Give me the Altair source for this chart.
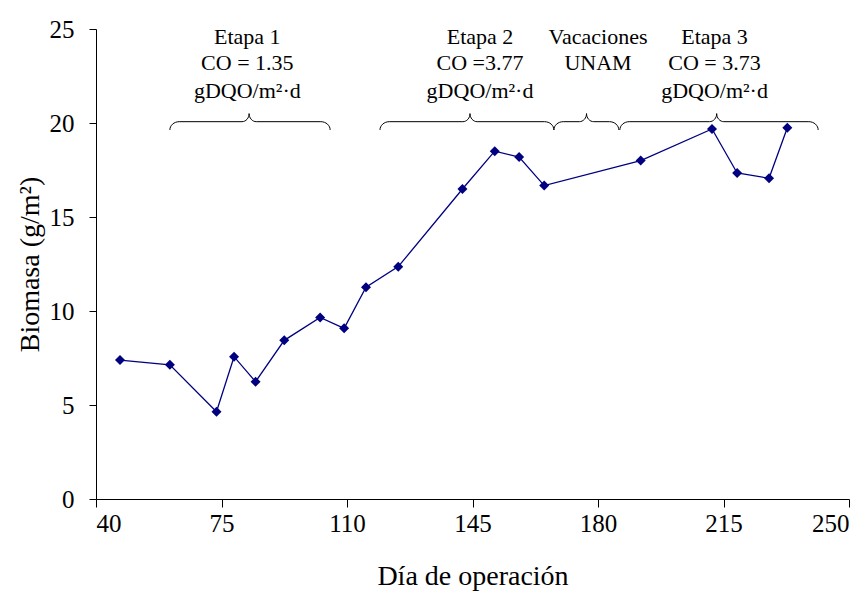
import math
import altair as alt
import pandas as pd

# ---- data ----
days = [46.7, 60.6, 73.6, 78.5, 84.5, 92.5, 102.5, 109.2, 115.3, 124.3,
        142.2, 151.2, 158.0, 165.0, 191.9, 211.8, 218.8, 227.7, 232.8]
biomass = [7.39, 7.14, 4.64, 7.57, 6.24, 8.44, 9.66, 9.08, 11.26, 12.36,
           16.49, 18.5, 18.19, 16.67, 18.0, 19.68, 17.34, 17.06, 19.75]

# annotation braces (start, tip, end in day units)
brace_start = [60.6, 119.2, 167.7, 186.1]
brace_tip = [82.7, 144.3, 176.8, 213.1]
brace_end = [105.3, 167.7, 185.8, 241.4]

# annotation text
ann_text = ["Etapa 1", "CO = 1.35", "gDQO/m²·d",
            "Etapa 2", "CO =3.77", "gDQO/m²·d",
            "Vacaciones", "UNAM",
            "Etapa 3", "CO = 3.73", "gDQO/m²·d"]
ann_x = [82.2, 82.2, 82.2,
         147.1, 147.1, 147.1,
         180.0, 180.0,
         212.5, 212.5, 212.5]
ann_y = [24.6, 23.2, 21.68,
         24.6, 23.2, 21.68,
         24.6, 23.2,
         24.6, 23.2, 21.68]

x_ticks = [40, 75, 110, 145, 180, 215, 250]
y_ticks = [0, 5, 10, 15, 20, 25]

FONT = "Liberation Serif"

df = pd.DataFrame({"day": days, "bio": biomass})

# brace geometry
Y_LOW, Y_FLAT, Y_TIP = 19.63, 20.07, 20.5
R_END, R_TIP = 2.6, 2.0
rows = []
for b, (x0, xm, x1) in enumerate(zip(brace_start, brace_tip, brace_end)):
    pts = []
    n = 8
    for i in range(n + 1):
        t = (math.pi / 2) * i / n
        pts.append((x0 + R_END - R_END * math.cos(t), Y_LOW + (Y_FLAT - Y_LOW) * math.sin(t)))
    for i in range(n + 1):
        t = (math.pi / 2) * i / n
        pts.append((xm - R_TIP + R_TIP * math.sin(t), Y_TIP - (Y_TIP - Y_FLAT) * math.cos(t)))
    for i in range(n + 1):
        t = (math.pi / 2) * i / n
        pts.append((xm + R_TIP - R_TIP * math.cos(t), Y_TIP - (Y_TIP - Y_FLAT) * math.sin(t)))
    for i in range(n + 1):
        t = (math.pi / 2) * i / n
        pts.append((x1 - R_END + R_END * math.sin(t), Y_FLAT - (Y_FLAT - Y_LOW) * (1 - math.cos(t))))
    for k, (px, py) in enumerate(pts):
        rows.append({"brace": b, "order": k, "x": px, "y": py})
brace_df = pd.DataFrame(rows)

ann_df = pd.DataFrame({"text": ann_text, "x": ann_x, "y": ann_y})

xscale = alt.Scale(domain=[40, 250], nice=False, zero=False)
yscale = alt.Scale(domain=[0, 25], nice=False)

xaxis = alt.Axis(values=x_ticks, title="Día de operación", tickSize=8,
                 labelPadding=4, titleY=85, titleBaseline="alphabetic")
yaxis = alt.Axis(values=y_ticks, title="Biomasa (g/m²)", tickSize=7,
                 labelPadding=15, titleX=-52, titleY=235)

line = alt.Chart(df).mark_line(color="#000080", strokeWidth=1.3).encode(
    x=alt.X("day:Q", scale=xscale, axis=xaxis),
    y=alt.Y("bio:Q", scale=yscale, axis=yaxis),
)
pts = alt.Chart(df).mark_point(shape="diamond", filled=True, size=100,
                               color="#000080", opacity=1).encode(
    x=alt.X("day:Q", scale=xscale),
    y=alt.Y("bio:Q", scale=yscale),
)
braces = alt.Chart(brace_df).mark_line(color="black", strokeWidth=1).encode(
    x=alt.X("x:Q", scale=xscale),
    y=alt.Y("y:Q", scale=yscale),
    detail="brace:N",
    order="order:Q",
)
texts = alt.Chart(ann_df).mark_text(font=FONT, fontSize=22, color="black",
                                    baseline="middle", align="center").encode(
    x=alt.X("x:Q", scale=xscale),
    y=alt.Y("y:Q", scale=yscale),
    text="text:N",
)

chart = alt.layer(line, pts, braces, texts).properties(
    width=753, height=470,
    autosize=alt.AutoSizeParams(type="none"),
    padding={"left": 88, "top": 21, "right": 8, "bottom": 92},
).configure_view(stroke=None).configure_axis(
    grid=False, domainColor="black", tickColor="black", labelColor="black",
    titleColor="black", labelFont=FONT, titleFont=FONT, labelFontSize=25,
    titleFontSize=28, titleFontWeight="normal", domainWidth=1, tickWidth=1,
)

chart.save("out.html", embed_options={"renderer": "svg", "actions": False})
